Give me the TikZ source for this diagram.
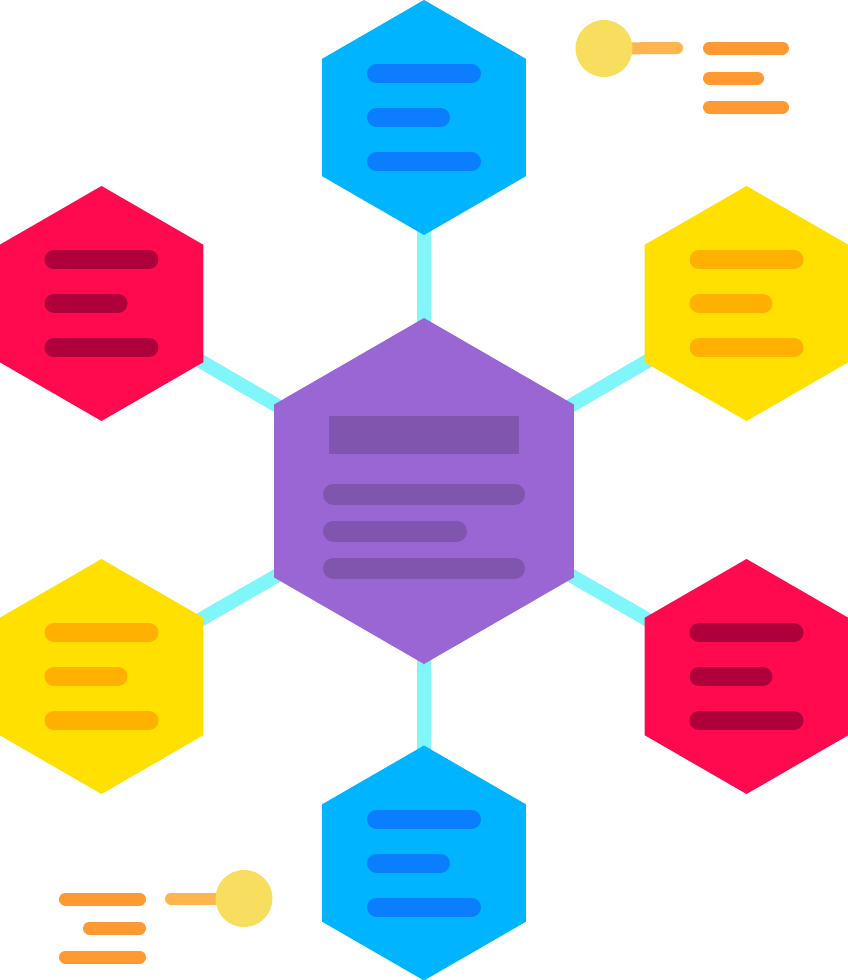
\documentclass[tikz,border=0pt]{standalone}
\usetikzlibrary{shapes.geometric,backgrounds}
\definecolor{hexblue}{HTML}{00B4FF}
\definecolor{barblue}{HTML}{0A7EFF}
\definecolor{hexred}{HTML}{FF0A4E}
\definecolor{barred}{HTML}{B0003C}
\definecolor{hexyellow}{HTML}{FFE000}
\definecolor{baryellow}{HTML}{FFB000}
\definecolor{hexpurple}{HTML}{9966D4}
\definecolor{barpurple}{HTML}{7F55AE}
\definecolor{linkcyan}{HTML}{80F6FA}
\definecolor{dotyellow}{HTML}{F8DE5E}
\definecolor{stemorange}{HTML}{FFB54D}
\definecolor{lineorange}{HTML}{FF9A33}
\tikzset{
  hexbox/.style={regular polygon, regular polygon sides=6, shape border rotate=30,
    minimum size=235pt, inner sep=0pt, outer sep=0pt, draw=none},
  textbar/.style={line width=19pt, line cap=round},
  link/.style={draw=linkcyan, line width=14pt},
  dotnode/.style={circle, fill=dotyellow, minimum size=57pt, inner sep=0pt, draw=none},
  dotline/.style={draw=stemorange, line width=12pt, line cap=round},
  legendbar/.style={draw=lineorange, line width=13pt, line cap=round}
}
\newcommand\hexitem[5]{%
  \node[hexbox, fill=#4] (#1) at (#2,#3) {};
  \draw[textbar,#5] (#2-47.5,#3-44) -- (#2+47.5,#3-44);
  \draw[textbar,#5] (#2-47.5,#3) -- (#2+16.5,#3);
  \draw[textbar,#5] (#2-47.5,#3+44) -- (#2+47.5,#3+44);
}
\begin{document}
\begin{tikzpicture}[x=1pt,y=-1pt]
\useasboundingbox (0,0) rectangle (848,980);
% center
\node[hexbox, minimum size=346pt, fill=hexpurple] (c) at (424,491) {};
\fill[barpurple] (329,416) rectangle (519,454);
\draw[textbar, line width=21pt, barpurple] (333.5,494) -- (514.5,494);
\draw[textbar, line width=21pt, barpurple] (333.5,531) -- (456.5,531);
\draw[textbar, line width=21pt, barpurple] (333.5,568) -- (514.5,568);
% satellites
\hexitem{t}{424}{117.5}{hexblue}{barblue}
\hexitem{b}{424}{863}{hexblue}{barblue}
\hexitem{lu}{101.5}{303.5}{hexred}{barred}
\hexitem{ru}{746.5}{303.5}{hexyellow}{baryellow}
\hexitem{ld}{101.5}{676.5}{hexyellow}{baryellow}
\hexitem{rd}{746.5}{676.5}{hexred}{barred}
% decorations
\node[dotnode] (d1) at (604,48.5) {};
\coordinate (s1) at (677,48);
\node[dotnode] (d2) at (244,898.5) {};
\coordinate (s2) at (171,898.5);
\draw[legendbar] (709.5,48) -- (782.5,48);
\draw[legendbar] (709.5,78) -- (757.5,78);
\draw[legendbar] (709.5,107) -- (782.5,107);
\draw[legendbar] (65.5,899) -- (139.5,899);
\draw[legendbar] (89.5,928) -- (139.5,928);
\draw[legendbar] (65.5,957) -- (139.5,957);
\begin{scope}[on background layer]
  \foreach \n in {t,b,lu,ru,ld,rd} \draw[link] (c.center) -- (\n.center);
  \draw[dotline] (d1.center) -- (s1);
  \draw[dotline] (d2.center) -- (s2);
\end{scope}
\end{tikzpicture}
\end{document}
